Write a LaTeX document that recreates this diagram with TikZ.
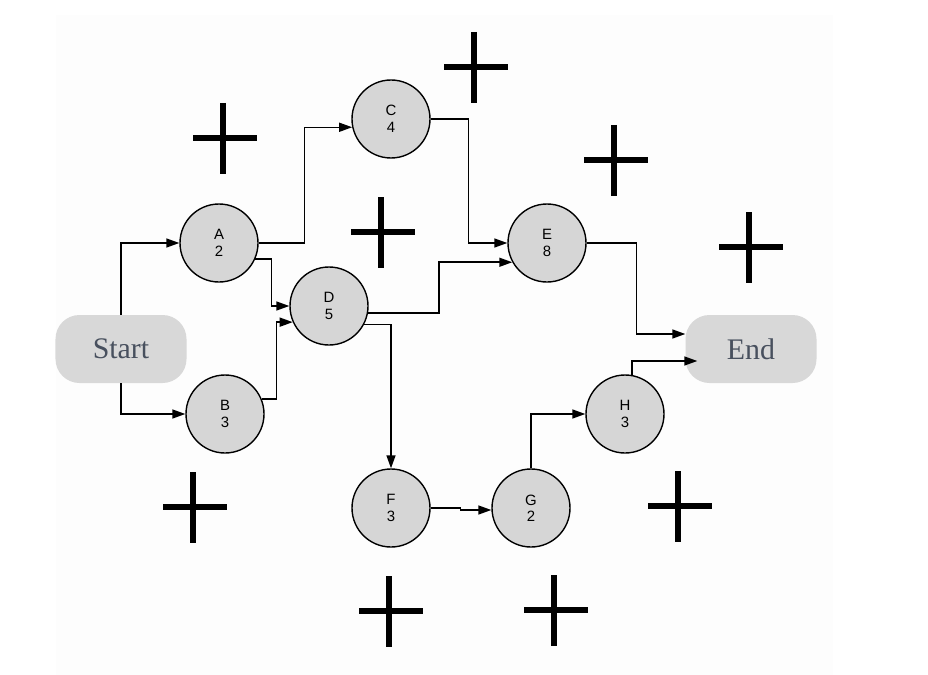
\documentclass[tikz,border=0pt]{standalone}
\usepackage{fontspec}
\usepackage{tikz}
\usetikzlibrary{arrows.meta}
\usetikzlibrary{calc}
\setmainfont{Liberation Serif}
\newfontfamily\labelfont{Liberation Sans}
\definecolor{nodegray}{RGB}{214,214,214}
\definecolor{capgray}{RGB}{216,216,216}
\definecolor{captext}{RGB}{72,80,94}
\definecolor{bgfaint}{RGB}{253,253,253}

\begin{document}
\begin{tikzpicture}[x=1bp,y=-1bp,
  task/.style={circle, draw=black, line width=1.4bp, fill=nodegray, minimum size=78bp, inner sep=0pt, align=center, font=\labelfont\fontsize{15}{16.5}\selectfont},
  terminal/.style={rectangle, rounded corners=24bp, fill=capgray, minimum width=131bp, minimum height=68bp, text=captext, font=\fontsize{30}{30}\selectfont},
  flow/.style={-{Triangle[length=13bp,width=9bp]}, draw, line width=1.5bp},
  cross/.style={line width=5.5bp}]
\useasboundingbox (0,0) rectangle (928,675);
\fill[color=bgfaint] (56,15) rectangle (833,675);

\node[terminal] (Start) at (121,349) {Start};
\node[terminal] (End) at (751,349) {End};
\node[task] (A) at (219,243) {A\\2};
\node[task] (B) at (225,414) {B\\3};
\node[task] (C) at (391,119) {C\\4};
\node[task] (D) at (329,306) {D\\5};
\node[task] (E) at (547,243) {E\\8};
\node[task] (F) at (391,508) {F\\3};
\node[task] (G) at (531,508) {G\\2};
\node[task] (H) at (625,414) {H\\3};

\path[flow] (Start.north) |- (A.west);
\path[flow] (Start.south) |- (B.west);
\path[flow] (A.east) -- ++(46,0) |- (C.192);
\path[flow] (A.336) -| ([xshift=-18bp]D.west) -- (D.west);
\path[flow] (B.22) -| ([xshift=-16bp]D.204) -- (D.204);
\path[flow] (C.east) -- ++(38,0) |- (E.west);
\path[flow] (D.350) -- ++(71,0) |- (E.209);
\path[flow] (D.332) -| (F.north);
\path[flow] (F.east) -- ++(30,0) |- ([yshift=-2bp]G.west);
\path[flow] (G.north) |- (H.west);
\path[flow] (E.east) -- ++(50,0) |- ([yshift=15bp]End.west);
\path[flow] (H.80) |- ([xshift=12bp,yshift=-12bp]End.west);

\foreach \vx/\hy in {223/138, 474/67, 614/160, 381/232, 749/247, 193/507, 678/506, 389/611, 554/610} {
  \draw[cross] (\vx-30,\hy) -- (\vx+34,\hy);
  \draw[cross] (\vx,\hy-35) -- (\vx,\hy+36);
}
\end{tikzpicture}
\end{document}
